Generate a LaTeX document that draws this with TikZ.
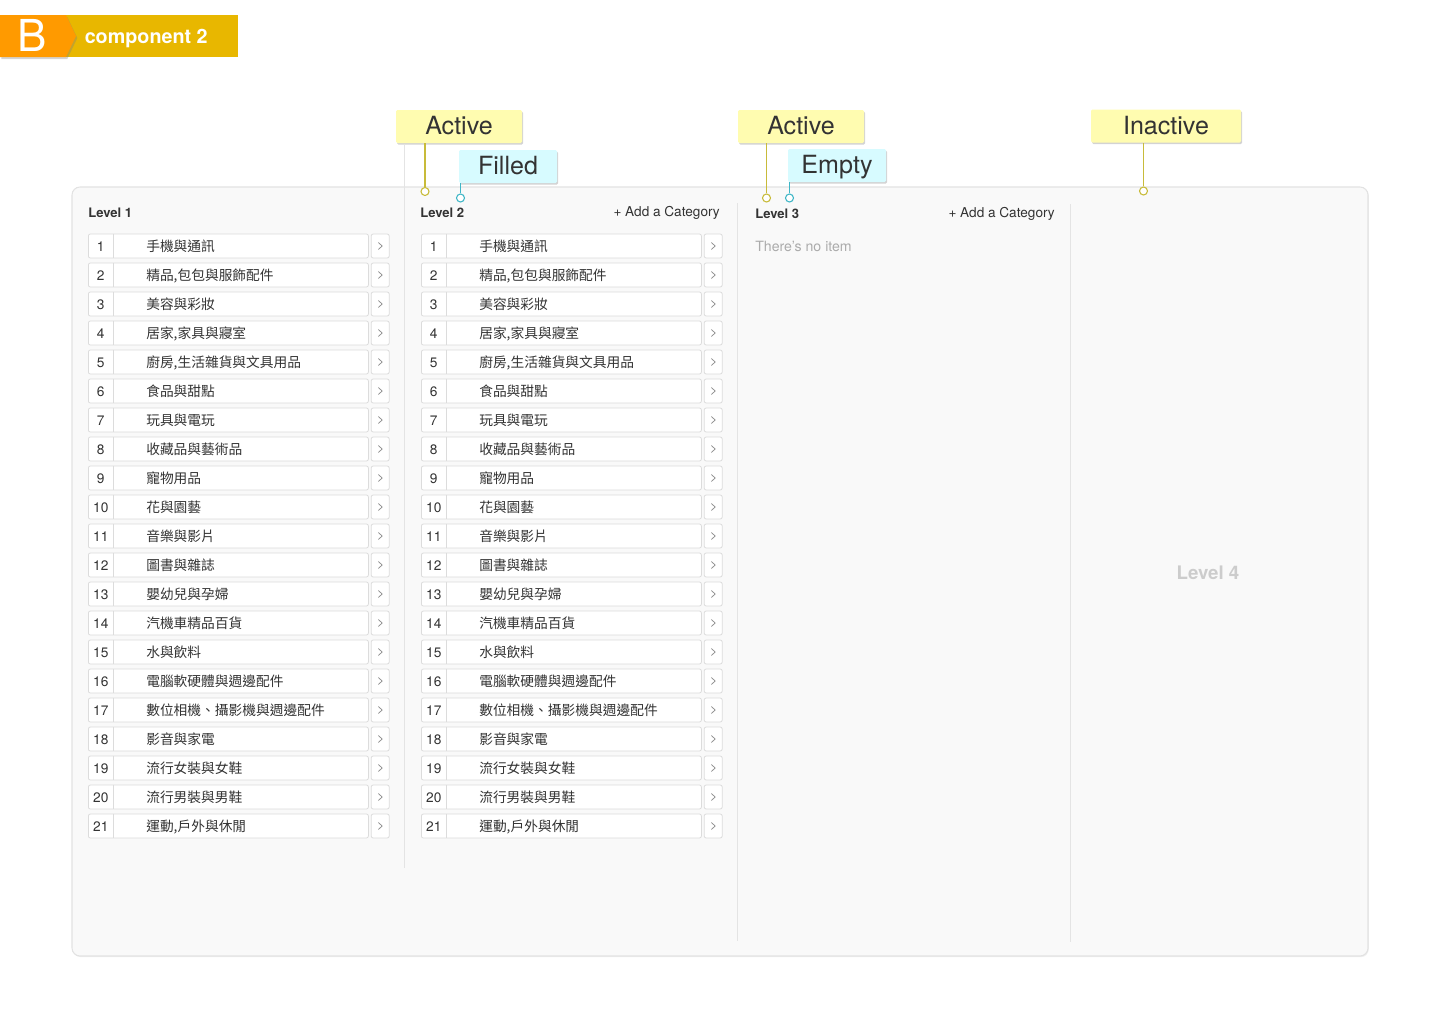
\documentclass[tikz,border=0pt]{standalone}
\usepackage{fontspec}
\setmainfont{TeX Gyre Heros}
\newfontfamily\cjk{Noto Sans CJK TC}
\usetikzlibrary{shadows}
\definecolor{panelfill}{HTML}{F9F9F9}
\definecolor{panelline}{HTML}{E2E2E2}
\definecolor{rowline}{HTML}{DCDCDC}
\definecolor{divline}{HTML}{E4E4E4}
\definecolor{txt}{HTML}{333333}
\definecolor{chevc}{HTML}{8C8C8C}
\definecolor{greytxt}{HTML}{ABABAB}
\definecolor{lvlfour}{HTML}{CCCCCC}
\definecolor{ytagfill}{HTML}{FFFCB0}
\definecolor{ctagfill}{HTML}{D7FBFF}
\definecolor{yleadc}{HTML}{C8BB3A}
\definecolor{cleadc}{HTML}{3FB6C6}
\definecolor{badgeorange}{HTML}{FF9A00}
\definecolor{badgegold}{HTML}{E8B700}
\begin{document}
\begin{tikzpicture}[x=0.75pt,y=-0.75pt,
  panel/.style={draw=panelline,fill=panelfill,rounded corners=6pt,line width=0.8pt,
    minimum width=972pt,minimum height=576.75pt,inner sep=0pt,
    drop shadow={opacity=0.12,shadow xshift=0.6pt,shadow yshift=-0.9pt}},
  rowbox/.style={draw=rowline,fill=white,rounded corners=1.5pt,line width=0.6pt,
    minimum width=210pt,minimum height=18pt,inner sep=0pt,anchor=west},
  arrowbox/.style={draw=rowline,fill=white,rounded corners=1.5pt,line width=0.6pt,
    minimum width=13.5pt,minimum height=18pt,inner sep=0pt,anchor=west},
  numtext/.style={inner sep=0pt,text=txt,font=\fontsize{10.3}{12}\selectfont},
  cattext/.style={anchor=west,inner sep=0pt,text=txt,font=\cjk\fontsize{10.3}{12}\selectfont},
  chevline/.style={draw=chevc,line width=0.55pt},
  rowsep/.style={draw=rowline,line width=0.6pt},
  head/.style={anchor=west,inner sep=0pt,text=txt,font=\bfseries\fontsize{9.8}{11}\selectfont},
  addcat/.style={anchor=east,inner sep=0pt,text=txt,font=\fontsize{10.2}{12}\selectfont},
  emptytxt/.style={anchor=west,inner sep=0pt,text=greytxt,font=\fontsize{10.6}{12}\selectfont},
  lvlfourtxt/.style={inner sep=0pt,text=lvlfour,font=\bfseries\fontsize{14}{16}\selectfont},
  divider/.style={draw=divline,line width=0.6pt},
  tagbase/.style={text=txt,inner sep=0pt,rounded corners=1pt,
    font=\fontsize{18.8}{20}\selectfont,minimum height=24.75pt,
    text height=14.5pt,text depth=2.5pt,
    drop shadow={opacity=0.35,shadow xshift=0.8pt,shadow yshift=-1.2pt}},
  ytag/.style={tagbase,fill=ytagfill},
  ctag/.style={tagbase,fill=ctagfill},
  yline/.style={draw=yleadc,line width=0.8pt},
  cline/.style={draw=cleadc,line width=0.8pt},
  ydot/.style={circle,draw=yleadc,fill=white,line width=0.8pt,minimum size=6pt,inner sep=0pt},
  cdot/.style={circle,draw=cleadc,fill=white,line width=0.8pt,minimum size=6pt,inner sep=0pt},
]
\useasboundingbox (0,0) rectangle (1440,1028);

% ---------- badge ----------
\node[fill=badgegold,minimum width=129pt,minimum height=31.5pt,inner sep=0pt,anchor=west] (bar) at (66,36) {};
\fill[badgeorange,drop shadow={opacity=0.35,shadow xshift=1pt,shadow yshift=-1.5pt}]
  (0,15) -- (66,15) -- (76,36) -- (66,57) -- (0,57) -- cycle;
\node[text=white,inner sep=0pt,anchor=base,font=\fontsize{33}{36}\selectfont] (bee) at (32.5,51.5) {B};
\node[text=white,inner sep=0pt,anchor=base west,font=\bfseries\fontsize{14.8}{16}\selectfont] (comp) at (84.5,43) {component 2};

% ---------- panel ----------
\node[panel] (panel) at (720,571.5) {};
\draw[divider] (404,145) -- (404,868);
\draw[divider] (737,203) -- (737,941);
\draw[divider] (1070,204) -- (1070,942);

% ---------- headers ----------
\node[head] (h1) at (88,213) {Level 1};
\node[head] (h2) at (420,213) {Level 2};
\node[addcat] (add2) at (720,213) {+ Add a Category};
\node[head] (h3) at (755,214) {Level 3};
\node[addcat] (add3) at (1055,214) {+ Add a Category};
\node[emptytxt] (noitem) at (755,246) {There’s no item};
\node[lvlfourtxt] (h4) at (1208,573) {Level 4};

% ---------- rows ----------
\foreach \t [count=\i] in {{手機與通訊},{精品,包包與服飾配件},{美容與彩妝},{居家,家具與寢室},
  {廚房,生活雜貨與文具用品},{食品與甜點},{玩具與電玩},{收藏品與藝術品},{寵物用品},
  {花與園藝},{音樂與影片},{圖書與雜誌},{嬰幼兒與孕婦},{汽機車精品百貨},{水與飲料},
  {電腦軟硬體與週邊配件},{數位相機、攝影機與週邊配件},{影音與家電},{流行女裝與女鞋},
  {流行男裝與男鞋},{運動,戶外與休閒}} {
  \foreach \c/\x in {a/88,b/421} {
    \node[rowbox] (\c-row-\i) at (\x,{246+29*(\i-1)}) {};
    \node[arrowbox] (\c-arr-\i) at ([xshift=1.5pt]\c-row-\i.east) {};
    \draw[rowsep] ([xshift=18.75pt]\c-row-\i.north west) -- ([xshift=18.75pt]\c-row-\i.south west);
    \node[numtext] (\c-num-\i) at ([xshift=9.6pt,yshift=-0.3pt]\c-row-\i.west) {\i};
    \node[cattext] (\c-txt-\i) at ([xshift=43.5pt,yshift=-0.4pt]\c-row-\i.west) {\t};
    \draw[chevline] ([xshift=-1.4pt,yshift=2.6pt]\c-arr-\i.center)
      -- ([xshift=1.5pt]\c-arr-\i.center)
      -- ([xshift=-1.4pt,yshift=-2.6pt]\c-arr-\i.center);
  }
}

% ---------- tags ----------
\node[ytag,minimum width=94.5pt] (act1) at (459,126.5) {Active};
\node[ctag,minimum width=73.5pt] (fill1) at (508,166.5) {Filled};
\node[ytag,minimum width=94.5pt] (act2) at (801,126.5) {Active};
\node[ctag,minimum width=73.5pt] (emp2) at (837,165.5) {Empty};
\node[ytag,minimum width=112.5pt] (inact) at (1166,126) {Inactive};

\node[ydot] (d1) at (425,191.5) {};
\node[cdot] (d2) at (460.5,198) {};
\node[ydot] (d3) at (766.5,198) {};
\node[cdot] (d4) at (789.5,198) {};
\node[ydot] (d5) at (1143.5,191) {};

\draw[yline] (act1.south -| d1) -- (d1.north);
\draw[cline] (fill1.south -| d2) -- (d2.north);
\draw[yline] (act2.south -| d3) -- (d3.north);
\draw[cline] (emp2.south -| d4) -- (d4.north);
\draw[yline] (inact.south -| d5) -- (d5.north);
\end{tikzpicture}
\end{document}
